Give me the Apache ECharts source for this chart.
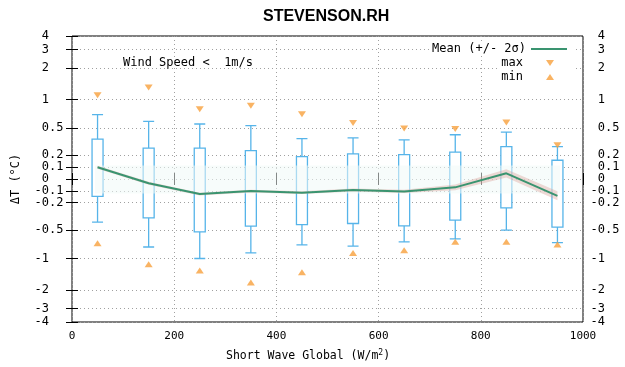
<!DOCTYPE html>
<html>
<head>
<meta charset="utf-8">
<script src="https://cdn.jsdelivr.net/npm/echarts@6/dist/echarts.min.js"></script>
<style>
html, body { margin: 0; padding: 0; background: #fff; }
#chart { width: 625px; height: 367px; }
</style>
</head>
<body>
<div id="chart"></div>
<script>
// bins of short wave global radiation (W/m2)
const binCenters = [50, 150, 250, 350, 450, 550, 650, 750, 850, 950]
const whiskerHigh = [0.70, 0.593, 0.555, 0.532, 0.37, 0.378, 0.355, 0.414, 0.447, 0.284]
const boxQ3 = [0.363, 0.268, 0.268, 0.245, 0.188, 0.213, 0.207, 0.229, 0.284, 0.156]
const boxQ1 = [-0.144, -0.352, -0.526, -0.45, -0.43, -0.417, -0.447, -0.378, -0.249, -0.463]
const whiskerLow = [-0.40, -0.765, -1.00, -0.88, -0.726, -0.75, -0.676, -0.627, -0.50, -0.69]
const maxValues = [1.10, 1.31, 0.80, 0.866, 0.71, 0.57, 0.494, 0.487, 0.578, 0.297]
const minValues = [-0.70, -1.14, -1.31, -1.71, -1.36, -0.88, -0.825, -0.676, -0.676, -0.72]
const meanValues = [0.096, -0.035, -0.124, -0.099, -0.112, -0.09, -0.102, -0.068, 0.046, -0.139]
const meanHigh = [0.108, -0.023, -0.112, -0.087, -0.100, -0.077, -0.088, -0.045, 0.080, -0.100]
const meanLow = [0.084, -0.047, -0.136, -0.111, -0.124, -0.103, -0.116, -0.091, 0.012, -0.178]
const faintBandX = [45, 955]
const faintBandY = [0.11, -0.12]

const xTicks = [0, 200, 400, 600, 800, 1000]
const yTicks = [-4, -3, -2, -1, -0.5, -0.2, -0.1, 0, 0.1, 0.2, 0.5, 1, 2, 3, 4]

const mono = 'DejaVu Sans Mono'
const boxColor = '#56b4e9'
const meanColor = '#3a9470'
const triColor = '#f7a03c'

// y scale: stretched around zero, like a signed log
const T = (v) => Math.asinh(v / 0.38)
const Tinv = (t) => 0.38 * Math.sinh(t)
const yMax = T(4)

function yLabel(t) {
  const v = Tinv(t)
  const tick = yTicks.reduce((a, b) => (Math.abs(b - v) < Math.abs(a - v) ? b : a))
  return (tick < 0 ? '-' : ' ') + String(Math.abs(tick))
}

const dotted = { color: '#a0a0a0', width: 1, type: [1, 3] }

function yAxisCfg(pos, margin) {
  return {
    type: 'value',
    position: pos,
    min: -yMax,
    max: yMax,
    axisLine: { show: false },
    axisTick: { show: true, inside: true, length: 6, customValues: yTicks.map(T), lineStyle: { color: '#000' } },
    axisLabel: {
      customValues: yTicks.map(T),
      formatter: yLabel,
      fontFamily: mono,
      fontSize: 12,
      color: '#000',
      margin,
      align: 'left',
    },
    splitLine: { show: pos === 'left', lineStyle: dotted },
  }
}

function xAxisCfg(pos) {
  return {
    type: 'value',
    position: pos,
    min: xTicks[0],
    max: xTicks[xTicks.length - 1],
    interval: 200,
    axisLine: { show: false },
    axisTick: { inside: true, length: 6, lineStyle: { color: '#000' } },
    axisLabel: { show: pos === 'bottom', fontFamily: mono, fontSize: 11, color: '#000', margin: 9, formatter: (v) => String(v) },
    splitLine: { show: pos === 'bottom', lineStyle: dotted },
  }
}

const legendText = { fontFamily: mono, fontSize: 12, color: '#000', lineHeight: 14 }

const chart = echarts.init(document.getElementById('chart'), null, { renderer: 'canvas' })

chart.setOption({
  animation: false,
  backgroundColor: '#fff',
  title: [
    {
      text: 'STEVENSON.RH',
      left: 258,
      top: 4,
      textStyle: { fontFamily: 'Liberation Sans', fontSize: 16, fontWeight: 'bold', color: '#000' },
    },
    {
      text: 'Short Wave Global (W/m{sup|2})',
      left: 226,
      top: 349,
      padding: 0,
      textStyle: {
        fontFamily: mono,
        fontSize: 11.5,
        fontWeight: 'normal',
        color: '#000',
        lineHeight: 14,
        rich: { sup: { fontFamily: mono, fontSize: 8, verticalAlign: 'top', lineHeight: 8 } },
      },
    },
  ],
  graphic: [
    {
      type: 'text',
      left: 123,
      top: 57,
      style: { text: 'Wind Speed <  1m/s', fontFamily: mono, fontSize: 12, fill: '#000' },
    },
  ],
  legend: [
    {
      orient: 'vertical',
      align: 'right',
      right: 49,
      top: 41,
      padding: [1, 8, 0, 3],
      backgroundColor: '#fff',
      itemWidth: 36,
      itemHeight: 8,
      textStyle: legendText,
      data: [{ name: 'Mean (+/- 2σ)', itemStyle: { opacity: 0 } }],
    },
    {
      orient: 'vertical',
      align: 'right',
      right: 49,
      top: 56,
      padding: [0, 22, 3, 3],
      backgroundColor: '#fff',
      itemWidth: 8,
      itemHeight: 6,
      itemGap: 0,
      textStyle: Object.assign({ padding: [0, 18, 0, 0] }, legendText),
      data: [
        { name: 'max', icon: 'path://M0,0L8,0L4,6Z' },
        { name: 'min', icon: 'path://M4,0L8,6L0,6Z' },
      ],
    },
  ],
  grid: {
    left: 72,
    right: 42,
    top: 36,
    bottom: 45,
    show: true,
    borderColor: '#000',
    borderWidth: 1,
    backgroundColor: 'transparent',
  },
  xAxis: [xAxisCfg('bottom'), xAxisCfg('top')],
  yAxis: [
    Object.assign(yAxisCfg('left', 37.5), {
      name: 'ΔT (°C)',
      nameLocation: 'middle',
      nameGap: 50,
      nameTextStyle: { fontFamily: mono, fontSize: 12, color: '#000' },
    }),
    yAxisCfg('right', 7.5),
  ],
  series: [
    {
      name: 'box',
      type: 'boxplot',
      z: 2,
      boxWidth: [11, 11],
      itemStyle: { color: '#fff', borderColor: boxColor, borderWidth: 1.3 },
      data: binCenters.map((x, i) => [x, T(whiskerLow[i]), T(boxQ1[i]), T(boxQ1[i]), T(boxQ3[i]), T(whiskerHigh[i])]),
    },
    {
      name: 'faint band',
      type: 'custom',
      z: 3,
      silent: true,
      data: [[faintBandX[0], T(faintBandY[0]), faintBandX[1], T(faintBandY[1])]],
      renderItem: (params, api) => {
        const p0 = api.coord([api.value(0), api.value(1)])
        const p1 = api.coord([api.value(2), api.value(3)])
        return {
          type: 'rect',
          shape: { x: p0[0], y: p0[1], width: p1[0] - p0[0], height: p1[1] - p0[1] },
          style: { fill: 'rgba(240,250,248,0.55)' },
        }
      },
    },
    {
      name: 'sigma band',
      type: 'custom',
      z: 3,
      silent: true,
      data: binCenters.map((x, i) => [x, T(meanLow[i]), T(meanHigh[i])]),
      renderItem: (params, api) => {
        if (params.dataIndex !== 0) return null
        const upper = binCenters.map((x, i) => api.coord([x, T(meanHigh[i])]))
        const lower = binCenters.map((x, i) => api.coord([x, T(meanLow[i])])).reverse()
        return {
          type: 'polygon',
          shape: { points: upper.concat(lower) },
          style: { fill: 'rgba(214,150,140,0.35)' },
        }
      },
    },
    {
      name: 'Mean (+/- 2σ)',
      type: 'line',
      z: 4,
      symbol: 'none',
      lineStyle: { color: meanColor, width: 2 },
      itemStyle: { color: meanColor },
      data: binCenters.map((x, i) => [x, T(meanValues[i])]),
    },
    {
      name: 'max',
      type: 'scatter',
      z: 3,
      symbol: 'triangle',
      symbolRotate: 180,
      symbolSize: [8, 6],
      itemStyle: { color: triColor },
      data: binCenters.map((x, i) => [x, T(maxValues[i])]),
    },
    {
      name: 'min',
      type: 'scatter',
      z: 3,
      symbol: 'triangle',
      symbolSize: [8, 6],
      itemStyle: { color: triColor },
      data: binCenters.map((x, i) => [x, T(minValues[i])]),
    },
  ],
})
</script>
</body>
</html>
